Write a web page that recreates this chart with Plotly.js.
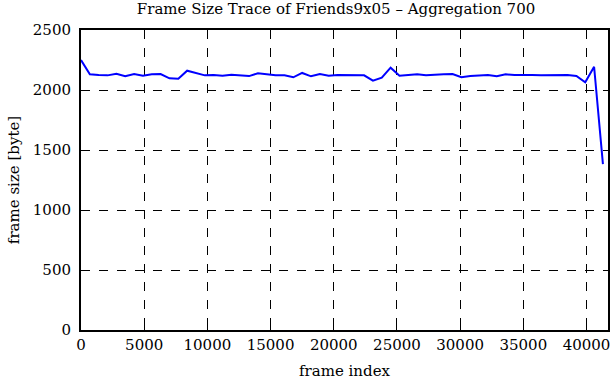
<!DOCTYPE html>
<html>
<head>
<meta charset="utf-8">
<script src="https://cdn.plot.ly/plotly-3.0.1.min.js"></script>
<style>html,body{margin:0;padding:0;background:#fff;}#chart{width:611px;height:380px;}</style>
</head>
<body>
<div id="chart"></div>
<script>
const chartTitle = "Frame Size Trace of Friends9x05 \u2013 Aggregation 700";
const xLabel = "frame index";
const yLabel = "frame size [byte]";
const aggregation = 700;
const frameSizes = [
  2250, 2131, 2125, 2122, 2136, 2114, 2133, 2119, 2131, 2133,
  2097, 2094, 2161, 2142, 2122, 2125, 2119, 2128, 2122, 2116,
  2140, 2128, 2122, 2122, 2106, 2142, 2114, 2133, 2119, 2125,
  2125, 2125, 2122, 2078, 2103, 2186, 2119, 2125, 2131, 2122,
  2128, 2131, 2133, 2106, 2117, 2119, 2125, 2114, 2131, 2125,
  2128, 2125, 2122, 2125, 2125, 2125, 2117, 2064, 2194, 1383
];
const frameIndex = frameSizes.map((_, i) => i * aggregation);
const xTicks = [0, 5000, 10000, 15000, 20000, 25000, 30000, 35000, 40000];
const yTicks = [0, 500, 1000, 1500, 2000, 2500];

const font = {family: "DejaVu Serif, Liberation Serif, serif", color: "#000", size: 15};

const trace = {
  x: frameIndex, y: frameSizes, type: "scatter", mode: "lines",
  line: {color: "#0000ff", width: 2}, hoverinfo: "skip"
};

const axisCommon = {
  showline: true, linecolor: "#000", linewidth: 2, mirror: "ticks",
  ticks: "inside", ticklen: 5, tickcolor: "#000", tickwidth: 1,
  showgrid: true, gridcolor: "#000", gridwidth: 1, griddash: "dash",
  zeroline: false, tickfont: font, tickmode: "array"
};

const layout = {
  width: 611, height: 380,
  margin: {l: 81, r: 3, t: 30, b: 50},
  paper_bgcolor: "#fff", plot_bgcolor: "#fff",
  font: font,
  showlegend: false,
  title: {text: chartTitle, font: {family: font.family, size: 15, color: "#000"}, xref: "container", x: 0.55, xanchor: "center", yref: "container", y: 0.978, yanchor: "middle"},
  xaxis: Object.assign({}, axisCommon, {
    range: [0, 41700], tickvals: xTicks, ticktext: xTicks.map(String),
    title: {text: xLabel, font: font, standoff: 13}
  }),
  yaxis: Object.assign({}, axisCommon, {
    range: [0, 2500], tickvals: yTicks, ticktext: yTicks.map(String),
    ticklabelstandoff: 5,
    title: {text: yLabel, font: font, standoff: 10}
  })
};

Plotly.newPlot("chart", [trace], layout, {staticPlot: true, displayModeBar: false});
</script>
</body>
</html>
